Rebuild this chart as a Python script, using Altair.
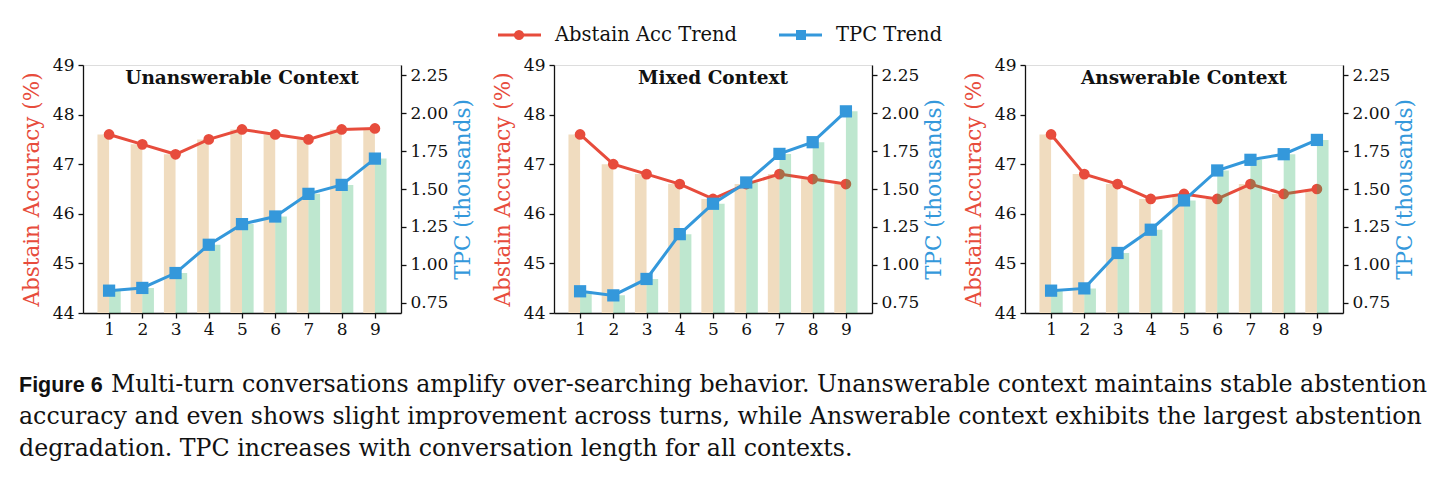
import altair as alt
import pandas as pd

# ---- data -------------------------------------------------------------
turns = [1, 2, 3, 4, 5, 6, 7, 8, 9]
contexts = ["Unanswerable Context", "Mixed Context", "Answerable Context"]

acc_unanswerable = [47.6, 47.4, 47.2, 47.5, 47.7, 47.6, 47.5, 47.7, 47.72]
acc_mixed = [47.6, 47.0, 46.8, 46.6, 46.3, 46.6, 46.8, 46.7, 46.6]
acc_answerable = [47.6, 46.8, 46.6, 46.3, 46.4, 46.3, 46.6, 46.4, 46.5]

tpc_unanswerable = [0.831, 0.849, 0.947, 1.133, 1.269, 1.319, 1.468, 1.527, 1.700]
tpc_mixed = [0.827, 0.800, 0.908, 1.203, 1.403, 1.543, 1.731, 1.808, 2.011]
tpc_answerable = [0.831, 0.846, 1.079, 1.232, 1.425, 1.622, 1.692, 1.729, 1.823]

series_names = ["Abstain Acc Trend", "TPC Trend"]

acc_ticks = [44, 45, 46, 47, 48, 49]
tpc_ticks = [0.75, 1.00, 1.25, 1.50, 1.75, 2.00, 2.25]

caption_head = "Figure 6"
caption_lines = [
    "Multi-turn conversations amplify over-searching behavior. Unanswerable context maintains stable abstention",
    "accuracy and even shows slight improvement across turns, while Answerable context exhibits the largest abstention",
    "degradation. TPC increases with conversation length for all contexts.",
]

# ---- style ------------------------------------------------------------
RED = "#e74c3c"
BLUE = "#3498db"
TAN = "#f0dcbf"
GREEN = "#27ae60"
FONT = "DejaVu Serif"
W, H = 318, 248
GAP = 153          # distance between neighbouring plot areas
BAR_W = 0.35

x_scale = alt.Scale(domain=[0.215, 9.785], nice=False, zero=False)
acc_scale = alt.Scale(domain=[44, 49], nice=False, zero=False)
tpc_scale = alt.Scale(domain=[0.684, 2.316], nice=False, zero=False)

x_axis = alt.Axis(values=turns, format="d", title=None, labelFont=FONT,
                  labelFontSize=17, labelColor="#111", labelPadding=3,
                  tickSize=5, tickWidth=1.3, tickColor="#111",
                  domainColor="#111", domainWidth=1.3, grid=False)
acc_axis = alt.Axis(values=acc_ticks, format="d", title="Abstain Accuracy (%)",
                    titleColor=RED, titleFont=FONT, titleFontSize=21.5,
                    titleFontWeight="normal", titlePadding=9,
                    labelFont=FONT, labelFontSize=17, labelColor="#111",
                    labelPadding=4, tickSize=5, tickWidth=1.3, tickColor="#111",
                    domainColor="#111", domainWidth=1.3, grid=False)
tpc_axis = alt.Axis(values=tpc_ticks, format=".2f", title="TPC (thousands)",
                    orient="right", titleAngle=270, titleBaseline="top",
                    titleColor=BLUE, titleFont=FONT, titleFontSize=21.5,
                    titleFontWeight="normal", titlePadding=5,
                    labelFont=FONT, labelFontSize=17, labelColor="#111",
                    labelPadding=4, tickSize=5, tickWidth=1.3, tickColor="#111",
                    domainColor="#111", domainWidth=1.3, grid=False)


def text_layer(txt, **mark):
    return alt.Chart(pd.DataFrame({"t": [txt]})).mark_text(**mark)


def legend_layers(ly=-30):
    leg = pd.DataFrame({"name": series_names})
    red_name = alt.Chart(leg).transform_filter(alt.datum.name == series_names[0])
    blue_name = alt.Chart(leg).transform_filter(alt.datum.name == series_names[1])
    txt = dict(font=FONT, fontSize=19.5, align="left", baseline="middle",
               color="#111")
    return [
        red_name.mark_rule(color=RED, strokeWidth=3).encode(
            x=alt.value(-56), x2=alt.value(-13), y=alt.value(ly)),
        red_name.mark_point(shape="circle", filled=True, color=RED,
                            size=105, opacity=1).encode(
            x=alt.value(-35), y=alt.value(ly)),
        red_name.mark_text(**txt).encode(
            x=alt.value(1), y=alt.value(ly), text="name:N"),
        blue_name.mark_rule(color=BLUE, strokeWidth=3).encode(
            x=alt.value(225), x2=alt.value(268), y=alt.value(ly)),
        blue_name.mark_point(shape="square", filled=True, color=BLUE,
                             size=100, opacity=1).encode(
            x=alt.value(247), y=alt.value(ly)),
        blue_name.mark_text(**txt).encode(
            x=alt.value(282), y=alt.value(ly), text="name:N"),
    ]


def caption_layers(x0=-64, y0=327, step=32):
    layers = [text_layer(caption_head, font="Liberation Sans", fontSize=21.5,
                         fontWeight="bold", align="left", baseline="alphabetic",
                         color="#111").encode(
        x=alt.value(x0), y=alt.value(y0), text="t:N")]
    for i, (line, dx) in enumerate(zip(caption_lines, [92, 0, 0])):
        layers.append(text_layer(line, font=FONT, fontSize=23.7, align="left",
                                 baseline="alphabetic", color="#111").encode(
            x=alt.value(x0 + dx), y=alt.value(y0 + step * i), text="t:N"))
    return layers


def panel(title, acc, tpc, extra=()):
    df = pd.DataFrame({"turn": turns, "acc": acc, "tpc": tpc})
    base = alt.Chart(df).transform_calculate(
        left="datum.turn - %f" % BAR_W, right="datum.turn + %f" % BAR_W
    )
    x = alt.X("turn:Q", scale=x_scale, axis=x_axis)
    y_acc = alt.Y("acc:Q", scale=acc_scale, axis=acc_axis)
    y_tpc = alt.Y("tpc:Q", scale=tpc_scale, axis=tpc_axis)

    # accuracy (left axis): tan bars + red trend
    acc_bars = base.mark_bar(color=TAN, clip=True).encode(
        x=alt.X("left:Q", scale=x_scale, axis=x_axis), x2="turn:Q",
        y=y_acc, y2=alt.datum(0))
    acc_line = base.mark_line(color=RED, strokeWidth=3).encode(x=x, y=y_acc)
    acc_pts = base.mark_point(shape="circle", filled=True, color=RED,
                              size=115, opacity=1).encode(x=x, y=y_acc)
    left = alt.layer(acc_bars, acc_line, acc_pts)

    # TPC (right axis): green bars + blue trend, drawn over the left axis
    tpc_bars = base.mark_bar(color=GREEN, opacity=0.3, clip=True).encode(
        x=x, x2="right:Q", y=y_tpc, y2=alt.datum(0))
    tpc_line = base.mark_line(color=BLUE, strokeWidth=3).encode(x=x, y=y_tpc)
    tpc_pts = base.mark_point(shape="square", filled=True, color=BLUE,
                              size=150, opacity=1).encode(x=x, y=y_tpc)
    right = alt.layer(tpc_bars, tpc_line, tpc_pts)

    title_txt = text_layer(title, font=FONT, fontSize=18.5, fontWeight="bold",
                           color="#111", baseline="middle",
                           align="center").encode(
        x=alt.value(W / 2), y=alt.value(13), text="t:N")

    return alt.layer(left, right, title_txt, *extra).resolve_scale(
        y="independent").properties(width=W, height=H)


chart = alt.hconcat(
    panel(contexts[0], acc_unanswerable, tpc_unanswerable,
          extra=caption_layers()),
    panel(contexts[1], acc_mixed, tpc_mixed, extra=legend_layers()),
    panel(contexts[2], acc_answerable, tpc_answerable),
    spacing=GAP, bounds="flush",
).properties(
    padding={"left": 18, "top": 24, "right": 4, "bottom": 4}
).configure_view(stroke="transparent").configure(background="white")

chart.save("out.html", embed_options={"renderer": "svg", "actions": False})
